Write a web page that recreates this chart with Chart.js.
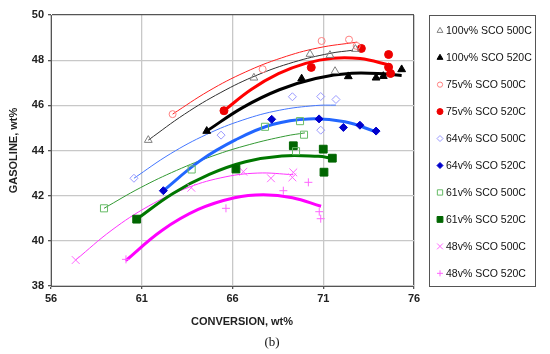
<!DOCTYPE html>
<html>
<head>
<meta charset="utf-8">
<script src="https://cdn.jsdelivr.net/npm/chart.js@4.4.0/dist/chart.umd.min.js"></script>
<style>
  html, body { margin: 0; padding: 0; background: #fff; }
</style>
</head>
<body>
<canvas id="grafico" width="550" height="354"></canvas>
<script>
// nomes das séries (legenda)
const nomes = [
  '100v% SCO 500C', '100v% SCO 520C',
  '75v% SCO 500C', '75v% SCO 520C',
  '64v% SCO 500C', '64v% SCO 520C',
  '61v% SCO 500C', '61v% SCO 520C',
  '48v% SCO 500C', '48v% SCO 520C'
];

// pontos medidos [conversão, gasolina]
const pts100_500 = [[61.36,44.46],[67.18,47.22],[70.27,48.27],[71.37,48.22],[71.65,47.51],[72.77,48.49]];
const pts100_520 = [[64.58,44.86],[69.81,47.18],[72.38,47.28],[73.91,47.22],[74.31,47.29],[75.32,47.59]];
const pts75_500  = [[62.70,45.61],[67.66,47.60],[70.91,48.85],[72.42,48.91],[72.84,48.63]];
const pts75_520  = [[65.53,45.76],[70.34,47.68],[73.10,48.52],[74.60,48.25],[74.60,47.69],[74.71,47.41]];
const pts64_500  = [[60.57,42.77],[65.37,44.68],[69.30,46.38],[70.86,46.39],[71.70,46.26],[70.86,44.90]];
const pts64_520  = [[62.19,42.22],[68.16,45.38],[70.77,45.40],[72.11,45.02],[73.02,45.12],[73.91,44.86]];
const pts61_500  = [[58.92,41.44],[63.75,43.16],[67.79,45.05],[69.72,45.30],[69.94,44.70],[69.50,43.97]];
const pts61_520  = [[60.72,40.96],[66.19,43.18],[69.35,44.21],[71.00,44.06],[71.50,43.66],[71.04,43.04]];
const pts48_500  = [[57.36,39.15],[63.73,42.35],[66.60,43.06],[68.12,42.77],[69.30,42.81],[69.35,43.03]];
const pts48_520  = [[60.13,39.18],[65.64,41.44],[68.80,42.22],[70.18,42.59],[70.78,41.29],[70.86,40.98]];

// linhas de tendência
const fit100_500 = [[61.36,44.46],[63.36,45.61],[65.36,46.57],[67.36,47.34],[69.36,47.91],[71.36,48.30],[72.64,48.44]];
const fit100_520 = [[64.58,44.86],[66.58,45.91],[68.58,46.69],[70.58,47.19],[72.58,47.42],[74.58,47.38],[75.32,47.32]];
const fit75_500  = [[62.70,45.61],[64.70,46.64],[66.70,47.47],[68.70,48.10],[70.70,48.54],[72.87,48.80]];
const fit75_520  = [[65.53,45.76],[67.03,46.70],[68.53,47.40],[70.03,47.86],[71.53,48.09],[73.03,48.07],[74.68,47.78]];
const fit64_500  = [[60.57,42.77],[62.57,43.85],[64.57,44.71],[66.57,45.35],[68.57,45.78],[70.57,45.99],[71.70,46.01]];
const fit64_520  = [[62.19,42.22],[64.19,43.53],[66.19,44.48],[68.19,45.15],[70.19,45.40],[72.19,45.27],[73.91,44.83]];
const fit61_500  = [[58.92,41.44],[60.92,42.35],[62.92,43.12],[64.92,43.76],[66.92,44.26],[68.92,44.64],[69.99,44.78]];
const fit61_520  = [[60.72,40.96],[62.72,42.10],[64.72,42.94],[66.72,43.50],[68.72,43.76],[70.72,43.74],[71.50,43.66]];
const fit48_500  = [[57.36,39.15],[59.36,40.48],[61.36,41.53],[63.36,42.30],[65.36,42.79],[67.36,43.00],[69.35,42.93]];
const fit48_520  = [[60.11,39.12],[62.11,40.46],[64.11,41.39],[66.11,41.91],[67.70,42.04],[69.30,41.91],[70.88,41.53]];

const pontos = [pts100_500, pts100_520, pts75_500, pts75_520, pts64_500, pts64_520, pts61_500, pts61_520, pts48_500, pts48_520];
const curvas = [fit100_500, fit100_520, fit75_500, fit75_520, fit64_500, fit64_520, fit61_500, fit61_520, fit48_500, fit48_520];

// estilo de cada série
const estilos = [
  { ps: 'triangle', r: 4.5, fill: 'rgba(0,0,0,0)', cor: '#808080', linha: '#303030', lw: 1 },
  { ps: 'triangle', r: 4.5, fill: '#000000',       cor: '#000000', linha: '#000000', lw: 3 },
  { ps: 'circle',   r: 3.5, fill: 'rgba(0,0,0,0)', cor: '#ff8080', linha: '#ff2020', lw: 1 },
  { ps: 'circle',   r: 4,   fill: '#ee0000',       cor: '#ee0000', linha: '#ff0000', lw: 3 },
  { ps: 'rectRot',  r: 4,   fill: 'rgba(0,0,0,0)', cor: '#9999ff', linha: '#4477ff', lw: 1 },
  { ps: 'rectRot',  r: 4,   fill: '#0000cc',       cor: '#0000cc', linha: '#2266ff', lw: 3 },
  { ps: 'rect',     r: 5,   fill: 'rgba(0,0,0,0)', cor: '#66bb66', linha: '#339933', lw: 1 },
  { ps: 'rect',     r: 5.5, fill: '#006600',       cor: '#006600', linha: '#007700', lw: 3 },
  { ps: 'crossRot', r: 5.5, fill: 'rgba(0,0,0,0)', cor: '#ff66ff', linha: '#ff33ff', lw: 1 },
  { ps: 'cross',    r: 4,   fill: 'rgba(0,0,0,0)', cor: '#ff66ff', linha: '#ff00ff', lw: 3 }
];

const xy = arr => arr.map(([x, y]) => ({ x: x, y: y }));

const datasets = [];
pontos.forEach((p, i) => {
  const e = estilos[i];
  datasets.push({
    label: nomes[i],
    data: xy(p),
    showLine: false,
    pointStyle: e.ps,
    pointRadius: e.r,
    pointBorderWidth: 1,
    backgroundColor: e.fill,
    borderColor: e.cor,
    order: 0
  });
});
curvas.forEach((c, i) => {
  const e = estilos[i];
  datasets.push({
    label: nomes[i] + ' fit',
    data: xy(c),
    showLine: true,
    pointRadius: 0,
    borderColor: e.linha,
    borderWidth: e.lw,
    tension: 0.4,
    fill: false,
    order: 1
  });
});

const fonteEixo = { family: '"Liberation Sans", Arial, sans-serif', size: 11, weight: 'bold' };

// legenda com caixa, título do eixo x e "(b)"
const legendaBox = {
  id: 'legendaBox',
  afterDraw(chart) {
    const ctx = chart.ctx;
    ctx.save();
    ctx.strokeStyle = '#555';
    ctx.lineWidth = 1;
    ctx.strokeRect(429.5, 15.5, 106, 271);
    ctx.textBaseline = 'middle';
    ctx.textAlign = 'left';
    nomes.forEach((nome, i) => {
      const e = estilos[i];
      const y = 30.7 + 26.96 * i;
      ctx.strokeStyle = e.cor;
      ctx.fillStyle = e.fill;
      ctx.lineWidth = 1;
      Chart.helpers.drawPoint(ctx, { pointStyle: e.ps, radius: e.r * 0.75, rotation: 0, borderWidth: 1 }, 440, y);
      ctx.fillStyle = '#111';
      ctx.font = '10.5px "Liberation Sans", Arial, sans-serif';
      ctx.fillText(nome, 446, y + 0.5);
    });

    ctx.textAlign = 'center';
    ctx.fillStyle = '#222';
    ctx.font = 'bold 11px "Liberation Sans", Arial, sans-serif';
    ctx.fillText('CONVERSION, wt%', 242, 322);
    ctx.fillStyle = '#111';
    ctx.font = '13px "Liberation Serif", "Times New Roman", serif';
    ctx.fillText('(b)', 272, 343);
    ctx.restore();
  }
};

new Chart(document.getElementById('grafico').getContext('2d'), {
  type: 'scatter',
  data: { datasets: datasets },
  plugins: [legendaBox],
  options: {
    responsive: false,
    animation: false,
    devicePixelRatio: 1,
    layout: { padding: { left: 0, top: 15, right: 136, bottom: 23 } },
    plugins: {
      legend: { display: false },
      tooltip: { enabled: false }
    },
    scales: {
      x: {
        type: 'linear',
        min: 56, max: 76,
        afterFit: s => { s.height = 45; },
        ticks: {
          stepSize: 1, autoSkip: false, maxRotation: 0, padding: 3,
          color: '#222', font: fonteEixo,
          callback: v => ((v - 56) % 5 === 0 ? v : '')
        },
        grid: {
          color: c => (c.tick.value === 76 ? '#555' : ((c.tick.value - 56) % 5 === 0 ? '#c8c8c8' : 'rgba(0,0,0,0)')),
          lineWidth: c => ((c.tick.value - 56) % 5 === 0 ? 1.3 : 0),
          tickColor: '#555',
          tickLength: 3
        },
        border: { color: '#555', width: 1 },
        title: { display: false }
      },
      y: {
        type: 'linear',
        min: 38, max: 50,
        afterFit: s => { s.width = 51; },
        ticks: {
          stepSize: 1, autoSkip: false, padding: 4,
          color: '#222', font: fonteEixo,
          callback: v => (v % 2 === 0 ? v : '')
        },
        grid: {
          color: c => (c.tick.value === 50 ? '#555' : (c.tick.value % 2 === 0 ? '#c8c8c8' : 'rgba(0,0,0,0)')),
          lineWidth: c => (c.tick.value % 2 === 0 ? 1.3 : 0),
          tickColor: '#555',
          tickLength: 3
        },
        border: { color: '#555', width: 1 },
        title: {
          display: true, text: 'GASOLINE, wt%', color: '#222', font: fonteEixo,
          padding: { top: 7, bottom: 0 }
        }
      }
    }
  }
});
</script>
</body>
</html>
